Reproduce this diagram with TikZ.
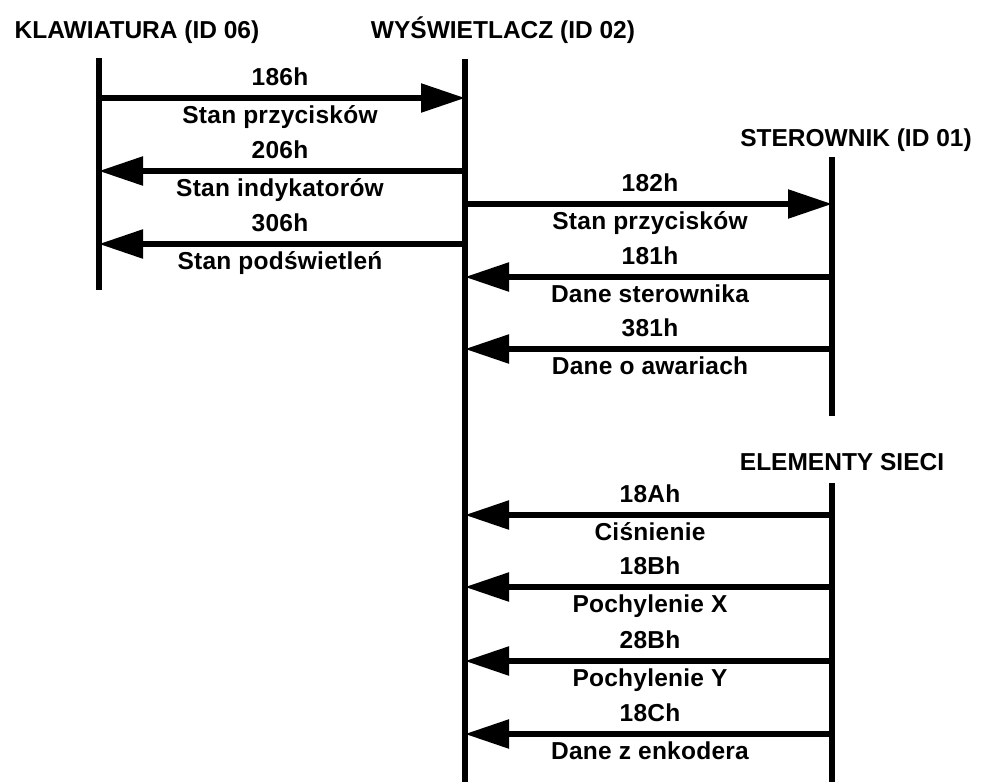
\documentclass[tikz,border=0pt]{standalone}
\usepackage{fontspec}
\setmainfont{Liberation Sans}[LetterSpace=1]
\newfontfamily\hdrfont{Liberation Sans}[LetterSpace=0]
\usetikzlibrary{arrows.meta}
\tikzset{
  lifeline/.style={line width=6pt},
  msg/.style={line width=5.5pt, -{Triangle[length=44pt,width=28pt]}},
  hdr/.style={font=\hdrfont\bfseries\fontsize{24.5pt}{26pt}\selectfont, anchor=base, inner sep=0pt},
  lbl/.style={font=\bfseries\fontsize{24.5pt}{26pt}\selectfont, anchor=base, inner sep=0pt}
}
\begin{document}
\begin{tikzpicture}[x=1pt,y=-1pt]
\useasboundingbox (0,0) rectangle (982,782);
% headers
\node[hdr] (hk) at (137,38) {KLAWIATURA (ID 06)};
\node[hdr] (hw) at (503,38) {WYŚWIETLACZ (ID 02)};
\node[hdr] (hs) at (856,146) {STEROWNIK (ID 01)};
\node[hdr] (he) at (842,470) {ELEMENTY SIECI};
% lifeline ends
\coordinate (k0) at (99,58);  \coordinate (k1) at (99,290);
\coordinate (w0) at (465,59); \coordinate (w1) at (465,782);
\coordinate (s0) at (832,157); \coordinate (s1) at (832,416);
\coordinate (e0) at (832,483); \coordinate (e1) at (832,782);
\draw[lifeline] (k0) -- (k1);
\draw[lifeline] (w0) -- (w1);
\draw[lifeline] (s0) -- (s1);
\draw[lifeline] (e0) -- (e1);
% message end points
\foreach \n/\y in {a/98,b/171,c/244}{
  \coordinate (k\n) at (99,\y);
  \coordinate (wk\n) at (465,\y);
}
\foreach \n/\y in {a/204,b/277,c/349}{
  \coordinate (s\n) at (832,\y);
  \coordinate (ws\n) at (465,\y);
}
\foreach \n/\y in {a/515,b/587,c/661,d/734}{
  \coordinate (e\n) at (832,\y);
  \coordinate (we\n) at (465,\y);
}
% messages keyboard <-> display
\draw[msg] (ka) -- (wka);
\node[lbl] (t1) at (280,85) {186h};
\node[lbl] (d1) at (280,123) {Stan przycisków};
\draw[msg] (wkb) -- (kb);
\node[lbl] (t2) at (280,158) {206h};
\node[lbl] (d2) at (280,196) {Stan indykatorów};
\draw[msg] (wkc) -- (kc);
\node[lbl] (t3) at (280,231) {306h};
\node[lbl] (d3) at (280,269) {Stan podświetleń};
% messages display <-> controller
\draw[msg] (wsa) -- (sa);
\node[lbl] (t4) at (650,191) {182h};
\node[lbl] (d4) at (650,229) {Stan przycisków};
\draw[msg] (sb) -- (wsb);
\node[lbl] (t5) at (650,264) {181h};
\node[lbl] (d5) at (650,302) {Dane sterownika};
\draw[msg] (sc) -- (wsc);
\node[lbl] (t6) at (650,336) {381h};
\node[lbl] (d6) at (650,374) {Dane o awariach};
% network elements
\draw[msg] (ea) -- (wea);
\node[lbl] (t7) at (650,502) {18Ah};
\node[lbl] (d7) at (650,540) {Ciśnienie};
\draw[msg] (eb) -- (web);
\node[lbl] (t8) at (650,574) {18Bh};
\node[lbl] (d8) at (650,612) {Pochylenie X};
\draw[msg] (ec) -- (wec);
\node[lbl] (t9) at (650,648) {28Bh};
\node[lbl] (d9) at (650,686) {Pochylenie Y};
\draw[msg] (ed) -- (wed);
\node[lbl] (t10) at (650,721) {18Ch};
\node[lbl] (d10) at (650,759) {Dane z enkodera};
\end{tikzpicture}
\end{document}
